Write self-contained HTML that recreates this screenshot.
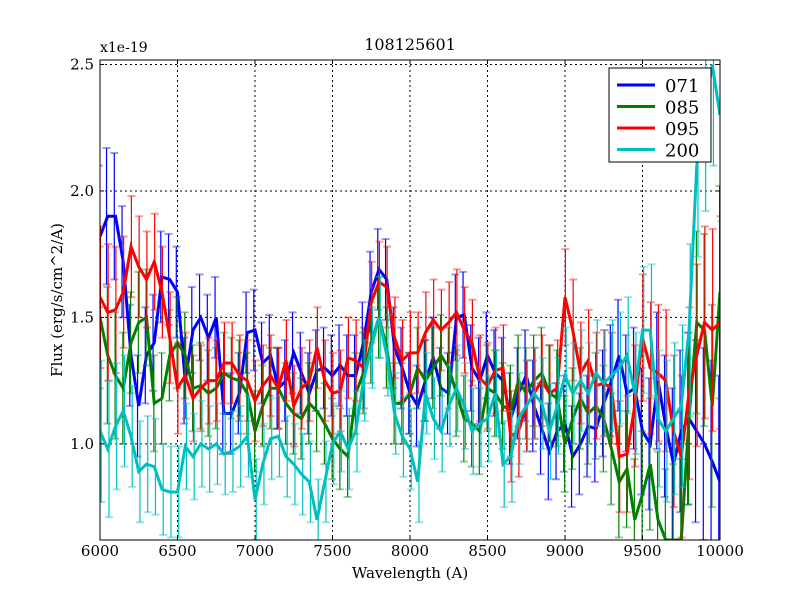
<!DOCTYPE html>
<html><head><meta charset="utf-8"><style>
body{margin:0;background:#fff;width:800px;height:600px;overflow:hidden}
text{font-family:"DejaVu Serif","Liberation Serif",serif;fill:#000}
</style></head><body>
<svg id="chart" width="800" height="600" xmlns="http://www.w3.org/2000/svg">
<defs><clipPath id="clip"><rect x="100" y="60" width="620" height="480"/></clipPath></defs>
<rect x="100" y="60" width="620" height="480" fill="#fff"/>
<g id="grid"></g>
<g id="series" clip-path="url(#clip)"></g>
<rect x="100" y="60" width="620" height="480" fill="none" stroke="#000" stroke-width="1"/>
<g id="ticks"></g>
<text x="410" y="50" font-size="16" text-anchor="middle">108125601</text>
<text x="100" y="52" font-size="14">x1e-19</text>
<text x="410" y="578" font-size="15" text-anchor="middle">Wavelength (A)</text>
<text x="62" y="300" font-size="15" text-anchor="middle" transform="rotate(-90 62 300)">Flux (erg/s/cm^2/A)</text>
<g id="legend"></g>
</svg>
<script>
const wavelengthStart = 6000, wavelengthStep = 50;
const xTicks = [6000,6500,7000,7500,8000,8500,9000,9500,10000];
const yTicks = [1.0,1.5,2.0,2.5];
const seriesNames = ["071","085","095","200"];
const s071 = [1.82,1.90,1.90,1.72,1.35,1.15,1.35,1.40,1.66,1.65,1.60,1.25,1.45,1.50,1.42,1.50,1.12,1.12,1.20,1.44,1.45,1.32,1.35,1.22,1.25,1.36,1.28,1.20,1.29,1.30,1.27,1.31,1.27,1.27,1.40,1.60,1.69,1.65,1.38,1.30,1.20,1.15,1.25,1.34,1.22,1.20,1.50,1.51,1.30,1.25,1.35,1.28,1.25,1.10,1.20,1.27,1.15,1.06,0.97,1.05,1.08,0.95,1.00,1.07,1.06,1.16,1.25,1.35,1.20,1.22,1.05,1.00,1.25,1.07,0.92,1.05,1.10,1.05,1.00,0.93,0.85];
const s085 = [1.50,1.35,1.27,1.22,1.40,1.48,1.50,1.16,1.18,1.35,1.40,1.35,1.22,1.23,1.20,1.22,1.28,1.26,1.25,1.20,1.05,1.15,1.22,1.22,1.16,1.12,1.10,1.16,1.13,1.08,1.02,0.98,0.95,1.20,1.28,1.40,1.50,1.38,1.16,1.16,1.20,1.30,1.25,1.30,1.35,1.30,1.20,1.10,1.08,1.05,1.22,1.20,1.15,1.13,1.25,1.20,1.25,1.28,1.20,1.18,1.00,1.10,1.18,1.12,1.15,1.10,0.98,0.85,0.90,0.70,0.80,0.92,0.70,0.62,0.62,0.62,1.10,1.48,1.45,1.15,1.60];
const s095 = [1.58,1.52,1.53,1.60,1.78,1.70,1.65,1.72,1.60,1.42,1.22,1.27,1.18,1.22,1.25,1.25,1.32,1.32,1.27,1.25,1.17,1.23,1.27,1.22,1.33,1.15,1.22,1.25,1.38,1.25,1.20,1.21,1.34,1.33,1.30,1.56,1.64,1.62,1.42,1.33,1.36,1.36,1.44,1.49,1.45,1.48,1.52,1.45,1.40,1.26,1.23,1.29,1.30,1.03,1.05,1.15,1.20,1.25,1.20,1.22,1.58,1.45,1.28,1.33,1.23,1.24,1.22,0.95,0.96,1.15,1.42,1.30,1.28,1.25,1.05,0.95,1.20,1.35,1.48,1.45,1.48];
const s200 = [1.05,0.98,1.07,1.13,1.03,0.89,0.92,0.91,0.82,0.81,0.81,0.99,0.95,1.00,0.98,1.00,0.96,0.97,0.99,1.03,0.78,0.92,1.02,1.03,0.95,0.92,0.88,0.85,0.70,0.85,1.00,1.05,0.98,1.05,1.25,1.38,1.50,1.35,1.12,1.03,0.98,0.85,1.20,1.10,1.05,1.15,1.22,1.15,1.05,1.08,1.10,1.20,0.92,0.95,1.10,1.15,1.20,1.16,1.05,1.15,1.27,1.20,1.25,1.20,1.28,1.24,1.27,1.30,1.35,1.20,1.45,1.45,1.10,1.05,1.10,1.15,1.45,2.10,2.30,2.50,2.30];
const errors = [0.28,0.27,0.25,0.22,0.20,0.20,0.19,0.19,0.18,0.18,0.18,0.17,0.17,0.17,0.17,0.16,0.16,0.16,0.16,0.16,0.16,0.16,0.16,0.16,0.16,0.16,0.16,0.16,0.16,0.16,0.16,0.16,0.16,0.16,0.16,0.16,0.16,0.16,0.16,0.16,0.16,0.16,0.16,0.16,0.16,0.16,0.17,0.17,0.17,0.17,0.17,0.17,0.17,0.18,0.18,0.18,0.18,0.18,0.19,0.19,0.19,0.20,0.20,0.20,0.21,0.21,0.22,0.22,0.23,0.24,0.25,0.26,0.27,0.28,0.30,0.32,0.34,0.36,0.38,0.40,0.42];
const seriesValues = [s071,s085,s095,s200];
const colors = ["#0000ff","#008000","#ff0000","#00bfbf"];
const NS="http://www.w3.org/2000/svg";
const X0=100,X1=720,Y0=540,Y1=64.5,XMIN=6000,XMAX=10000,YMIN=0.62,YMAX=2.5;
function xs(v){return X0+(v-XMIN)/(XMAX-XMIN)*(X1-X0);}
function ys(v){return Y0-(v-YMIN)/(YMAX-YMIN)*(Y0-Y1);}
function mk(tag,attrs,parent){const e=document.createElementNS(NS,tag);for(const k in attrs)e.setAttribute(k,attrs[k]);parent.appendChild(e);return e;}
const grid=document.getElementById('grid'),ticks=document.getElementById('ticks');
xTicks.forEach(t=>{
  const x=xs(t);
  if(t>XMIN&&t<XMAX){const g=mk('line',{x1:x,x2:x,y1:60,y2:540,stroke:'#000','stroke-dasharray':'2,3','stroke-width':1},grid);
  
  }
  mk('line',{x1:x,x2:x,y1:540,y2:536,stroke:'#000'},ticks);
  mk('line',{x1:x,x2:x,y1:60,y2:64,stroke:'#000'},ticks);
  const lb=mk('text',{x:x,y:556,'font-size':15,'text-anchor':'middle'},ticks);lb.textContent=t;
  
  
});
yTicks.forEach(t=>{
  const y=ys(t);
  const g=mk('line',{x1:100,x2:720,y1:y,y2:y,stroke:'#000','stroke-dasharray':'2,3','stroke-width':1},grid);
  
  
  mk('line',{x1:100,x2:104,y1:y,y2:y,stroke:'#000'},ticks);
  mk('line',{x1:716,x2:720,y1:y,y2:y,stroke:'#000'},ticks);
  const lb=mk('text',{x:94,y:y+5,'font-size':15,'text-anchor':'end'},ticks);lb.textContent=t.toFixed(1);
  
  
});
const sg=document.getElementById('series');
seriesValues.forEach((vals,si)=>{
  const g=mk('g',{},sg);
  
  
  vals.forEach((v,i)=>{
    const x=xs(wavelengthStart+i*wavelengthStep)+(si-1.5)*0.8;
    const e=errors[i];
    const b=mk('line',{x1:x,x2:x,y1:ys(v+e),y2:ys(v-e),stroke:colors[si],'stroke-width':1.2},g);
    
    
    mk('line',{x1:x-4,x2:x+4,y1:ys(v+e),y2:ys(v+e),stroke:colors[si],'stroke-width':2,opacity:0.4},g);
    mk('line',{x1:x-4,x2:x+4,y1:ys(v-e),y2:ys(v-e),stroke:colors[si],'stroke-width':2,opacity:0.4},g);
  });
  const pts=vals.map((v,i)=>xs(wavelengthStart+i*wavelengthStep)+','+ys(v)).join(' ');
  const pl=mk('polyline',{points:pts,fill:'none',stroke:colors[si],'stroke-width':3,'stroke-linejoin':'miter'},g);
  
  
});
const lg=document.getElementById('legend');
mk('rect',{x:609,y:68,width:102,height:94,fill:'#fff',stroke:'#000','stroke-width':1},lg);
seriesNames.forEach((n,i)=>{
  const y=85+i*21.5;
  const l=mk('line',{x1:617,x2:655,y1:y,y2:y,stroke:colors[i],'stroke-width':3},lg);
  
  
  const t=mk('text',{x:665,y:y+7,'font-size':18},lg);t.textContent=n;
  
  
});
</script>
</body></html>
